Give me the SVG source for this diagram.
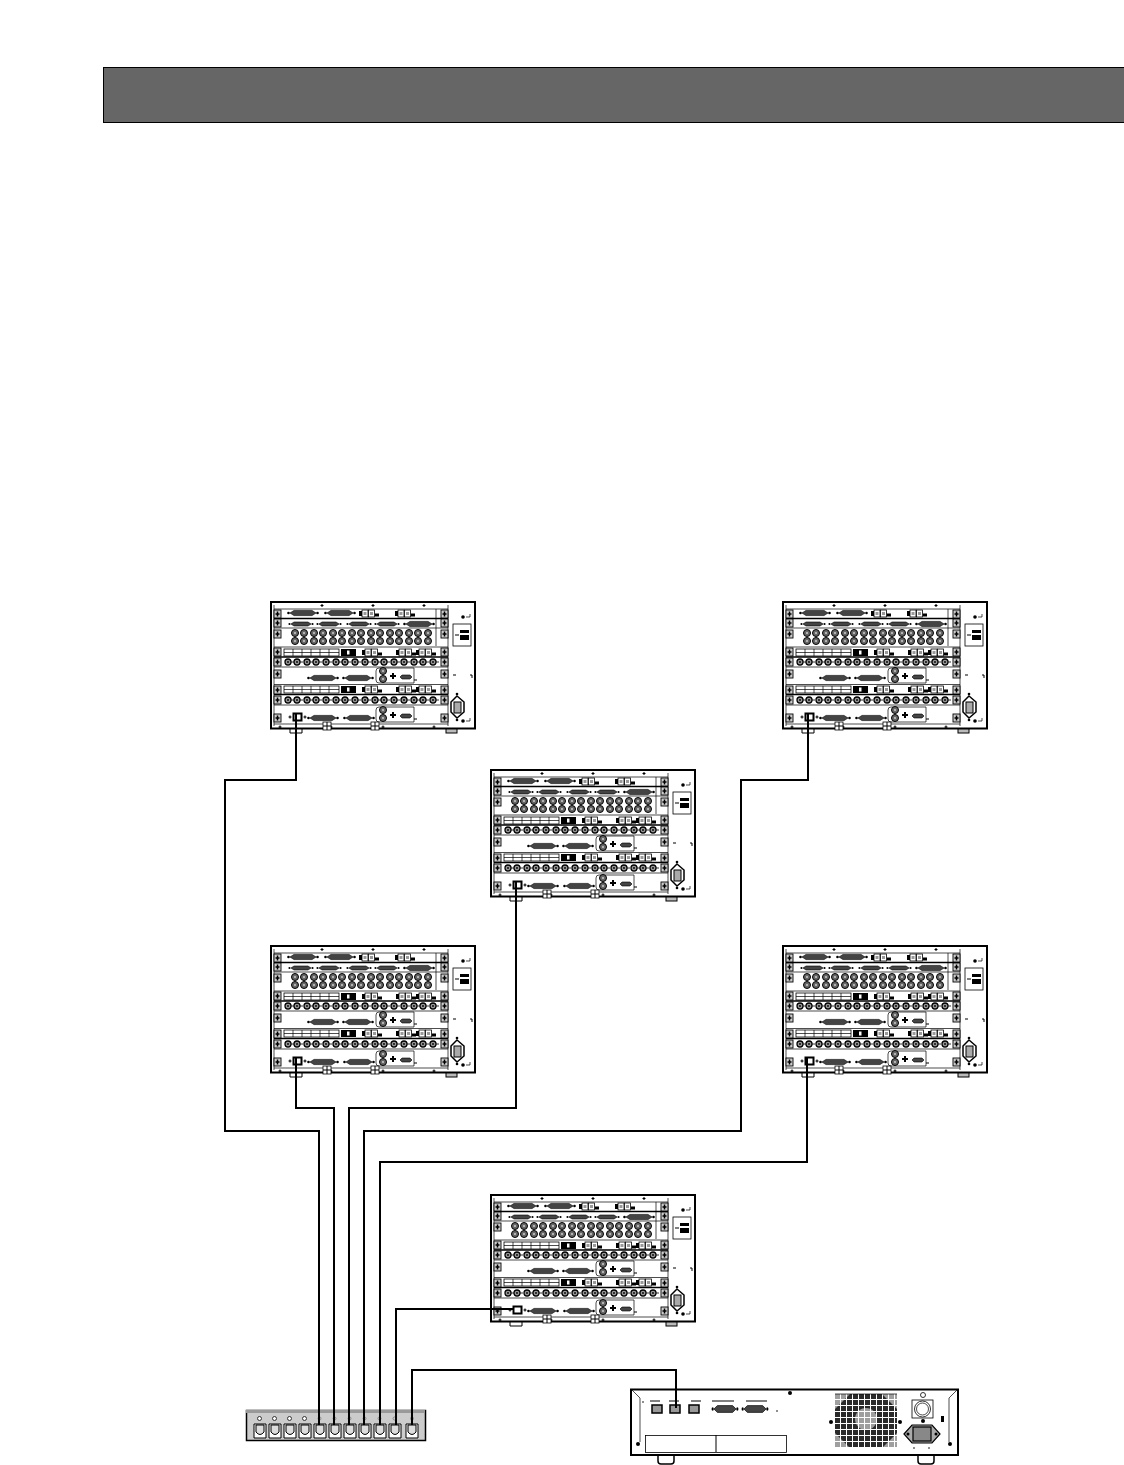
<svg xmlns="http://www.w3.org/2000/svg" xmlns:xlink="http://www.w3.org/1999/xlink" width="1124" height="1465" viewBox="0 0 1124 1465">
<style>
.ln{fill:none;stroke:#000;stroke-width:1}
.th{fill:none;stroke:#000;stroke-width:.7}
.wh{fill:#fff;stroke:#000;stroke-width:.8}
.dk{fill:#333}
.bk{fill:#000}
.cable{fill:none;stroke:#000;stroke-width:2}
</style>
<defs>
<pattern id="fan" width="6" height="6" patternUnits="userSpaceOnUse" x="835" y="1394">
<rect width="6" height="6" fill="#fff"/><rect width="5" height="5" fill="#2a2a2a"/>
</pattern>
<g id="sub"><path d="M-13 0L-9-2.600H9L13 0L9 2.600H-9Z" fill="#444" stroke="#000" stroke-width=".6"/><circle cx="-14.500" r="1.300" class="bk"/><circle cx="14.500" r="1.300" class="bk"/></g>
<g id="subs"><path d="M-10 0L-7-2H7L10 0L7 2H-7Z" fill="#444" stroke="#000" stroke-width=".6"/><circle cx="-11.500" r="1.100" class="bk"/><circle cx="11.500" r="1.100" class="bk"/></g>
<g id="bnc"><circle r="3.500" fill="#666" stroke="#000" stroke-width="1"/><circle r="1" fill="#ccc"/></g>
<g id="hb"><circle r="3" fill="#999" stroke="#000" stroke-width="1.300"/><circle r=".9" class="bk"/><path d="M3 0H6" stroke="#000" stroke-width=".8"/></g>
<g id="rj"><rect x="-3" y="-3.500" width="6" height="7" class="wh"/><rect x="-1.500" y="-1.500" width="3" height="3" fill="#999"/></g>
<g id="rjs"><rect x="-9" y="-2.500" width="3" height="5" class="bk"/><use href="#rj" x="-3"/><use href="#rj" x="3.500"/><rect x="7" y="0" width="4" height="3" class="bk"/></g>
<g id="ear"><rect x="0" y="0" width="7" height="8" fill="#ccc" stroke="#000" stroke-width=".9"/><path d="M3.500 1.500V6.500M1.500 4H5.500" stroke="#000" stroke-width="1.500"/></g>
<g id="s"><path d="M-1.500 0H1.500M0-1.500V1.500" stroke="#000" stroke-width="1.100"/></g>
<g id="slotbox">
<rect x="13" y="1" width="55" height="7" class="wh"/><path class="th" d="M13 4.500H68M22 1V8M31 1V8M40 1V8M49 1V8M58 1V8"/>
<rect x="70" y="1" width="15" height="7" class="bk"/><rect x="76" y="2.500" width="2.500" height="4" fill="#fff"/>
<use href="#rjs" x="100" y="4.500"/><use href="#rjs" x="134" y="4.500"/><use href="#rjs" x="154" y="4.500"/>
</g>
<g id="bncrow">
<use href="#hb" x="17"/><use href="#hb" x="26"/><use href="#hb" x="36"/><use href="#hb" x="45"/><use href="#hb" x="55"/><use href="#hb" x="65"/><use href="#hb" x="74"/><use href="#hb" x="84"/><use href="#hb" x="94"/><use href="#hb" x="104"/><use href="#hb" x="113"/><use href="#hb" x="123"/><use href="#hb" x="133"/><use href="#hb" x="143"/><use href="#hb" x="152"/><use href="#hb" x="162"/>
</g>
<g id="bncs">
<use href="#bnc" x="24"/><use href="#bnc" x="33"/><use href="#bnc" x="43"/><use href="#bnc" x="52"/><use href="#bnc" x="62"/><use href="#bnc" x="71"/><use href="#bnc" x="81"/><use href="#bnc" x="90"/><use href="#bnc" x="100"/><use href="#bnc" x="109"/><use href="#bnc" x="119"/><use href="#bnc" x="128"/><use href="#bnc" x="138"/><use href="#bnc" x="147"/><use href="#bnc" x="157"/>
</g>
<g id="ctl">
<path class="th" d="M108 0H143V15H108Q105 15 105 12V3Q105 0 108 0Z"/>
<use href="#bnc" x="112" y="3"/><use href="#bnc" x="112" y="11"/><path d="M119 8H125M122 5V11" stroke="#000" stroke-width="2"/>
<path d="M129 9L131 7H139L141 9L139 11H131Z" fill="#444" stroke="#000" stroke-width=".6"/><path d="M143 12H146" stroke="#000"/>
</g>
<g id="rack">
<rect x="0" y="0" width="204" height="126.500" fill="#fff" stroke="#000" stroke-width="2"/>
<path d="M19 127V131H31V127" class="ln" stroke-width="1.400"/><rect x="175" y="127" width="11" height="4" fill="#bbb" stroke="#000"/>
<path class="th" d="M3 3V124M177 3V124M3 7H177M3 26H177M3 45H177M3 65H177M3 82.500H177M3 103H177M3 122H177M165 7V44"/>
<path d="M3 16.500H177M3 55H177M3 92.500H177" stroke="#000" stroke-width="1.400"/>
<use href="#ear" x="3" y="8"/><use href="#ear" x="3" y="17"/><use href="#ear" x="3" y="28"/><use href="#ear" x="3" y="46"/><use href="#ear" x="3" y="56"/><use href="#ear" x="3" y="68"/><use href="#ear" x="3" y="84"/><use href="#ear" x="3" y="94"/><use href="#ear" x="3" y="112"/>
<use href="#ear" x="170" y="8"/><use href="#ear" x="170" y="17"/><use href="#ear" x="170" y="28"/><use href="#ear" x="170" y="46"/><use href="#ear" x="170" y="56"/><use href="#ear" x="170" y="68"/><use href="#ear" x="170" y="84"/><use href="#ear" x="170" y="94"/><use href="#ear" x="170" y="112"/>
<use href="#s" x="51" y="3.500"/><use href="#s" x="102" y="3.500"/><use href="#s" x="153" y="3.500"/><use href="#s" x="9" y="125"/><use href="#s" x="60" y="125"/><use href="#s" x="112" y="125"/><use href="#s" x="163" y="125"/>
<use href="#sub" x="32" y="11"/><use href="#sub" x="69" y="11"/>
<use href="#rjs" x="97" y="11.500"/><use href="#rjs" x="133" y="11.500"/>
<use href="#subs" x="30" y="22"/><use href="#subs" x="58" y="22"/><use href="#subs" x="88" y="22"/><use href="#subs" x="116" y="22"/><use href="#sub" x="148" y="22"/>
<use href="#bncs" y="31"/><use href="#bncs" y="39"/>
<use href="#slotbox" y="46"/><use href="#bncrow" y="60"/>
<use href="#sub" x="52" y="76"/><use href="#sub" x="87" y="76"/><use href="#ctl" y="66"/>
<use href="#slotbox" y="83"/><use href="#bncrow" y="98"/>
<rect x="22.500" y="111.500" width="8" height="7" fill="#fff" stroke="#000" stroke-width="2"/>
<use href="#s" x="19" y="115"/><use href="#s" x="34" y="115"/>
<use href="#sub" x="52" y="116"/><use href="#sub" x="88" y="116"/><use href="#ctl" y="105"/>
<g class="wh"><rect x="52" y="120" width="8" height="8"/><rect x="100" y="120" width="8" height="8"/></g>
<path d="M56 120V128M52 124H60M104 120V128M100 124H108" stroke="#000" stroke-width="1"/>
<rect x="182" y="22" width="18" height="22" class="wh"/>
<rect x="189" y="28" width="9" height="3" class="bk"/><rect x="189" y="33" width="9" height="5" class="bk"/><path d="M184 33H188" stroke="#000"/>
<circle cx="192" cy="15" r="1.800" class="bk"/><path d="M195 15H199V12" class="th"/>
<path d="M186 94L193 100V110L186 116L180 110V100Z" fill="#fff" stroke="#000" stroke-width="1.500"/><rect x="183" y="100" width="7" height="11" fill="#aaa" stroke="#000"/>
<circle cx="186" cy="92" r="1.300" class="bk"/><circle cx="186" cy="118" r="1.300" class="bk"/>
<circle cx="192" cy="119" r="1.800" class="bk"/><path d="M195 119H199V116" class="th"/>
<path d="M182 73H185M199 73H201V76" class="ln"/>
</g>
</defs>
<rect width="1124" height="1465" fill="#fff"/>
<rect id="header-bar" x="103.500" y="67.500" width="1021" height="55" fill="#666" stroke="#000" stroke-width="1"/>
<g id="rack-1"><use href="#rack" x="271" y="602"/></g>
<g id="rack-2"><use href="#rack" x="783" y="602"/></g>
<g id="rack-3"><use href="#rack" x="491" y="770"/></g>
<g id="rack-4"><use href="#rack" x="271" y="946"/></g>
<g id="rack-5"><use href="#rack" x="783" y="946"/></g>
<g id="rack-6"><use href="#rack" x="491" y="1195"/></g>
<g id="switch">
<rect x="246.500" y="1410.500" width="179" height="30" fill="#ccc" stroke="#000" stroke-width="1.500"/>
<path d="M246 1410H425V1413H246Z" fill="#999"/>
<g id="switch-ports" fill="#fff" stroke="#000">
<path d="M254 1424H266V1438H254Z M269 1424H281V1438H269Z M284 1424H296V1438H284Z M299 1424H311V1438H299Z M314 1424H326V1438H314Z M329 1424H341V1438H329Z M344 1424H356V1438H344Z M359 1424H371V1438H359Z M374 1424H386V1438H374Z M389 1424H401V1438H389Z M406 1424H418V1438H406Z"/>
<path fill="#ddd" d="M256 1425V1432Q260 1437 264 1432V1425Z M271 1425V1432Q275 1437 279 1432V1425Z M286 1425V1432Q290 1437 294 1432V1425Z M301 1425V1432Q305 1437 309 1432V1425Z M316 1425V1432Q320 1437 324 1432V1425Z M331 1425V1432Q335 1437 339 1432V1425Z M346 1425V1432Q350 1437 354 1432V1425Z M361 1425V1432Q365 1437 369 1432V1425Z M376 1425V1432Q380 1437 384 1432V1425Z M391 1425V1432Q395 1437 399 1432V1425Z M408 1425V1432Q412 1437 416 1432V1425Z"/>
<g fill="#fff" stroke="#333"><circle cx="259.500" cy="1418.500" r="2"/><circle cx="274.500" cy="1418.500" r="2"/><circle cx="289.500" cy="1418.500" r="2"/><circle cx="304.500" cy="1418.500" r="2"/></g>
<g fill="#ccc" stroke="#888"><circle cx="319.500" cy="1418.500" r="1.500"/><circle cx="334.500" cy="1418.500" r="1.500"/><circle cx="349.500" cy="1418.500" r="1.500"/><circle cx="364.500" cy="1418.500" r="1.500"/><circle cx="379.500" cy="1418.500" r="1.500"/><circle cx="394.500" cy="1418.500" r="1.500"/><circle cx="412" cy="1418.500" r="1.500"/></g>
</g>
</g>
<g id="controller">
<path d="M658 1455V1461Q658 1464 661 1464H671Q674 1464 674 1461V1455M918 1455V1461Q918 1464 921 1464H931Q934 1464 934 1461V1455" fill="#fff" stroke="#000" stroke-width="1.500"/>
<rect x="631" y="1389.500" width="327" height="65.500" fill="#fff" stroke="#000" stroke-width="2"/>
<path class="th" d="M631 1389L640 1398V1442M958 1389L949 1398V1442"/>
<rect x="645.500" y="1435.500" width="141" height="17" class="wh"/><path d="M716 1435V1452" stroke="#000"/>
<g fill="#999" stroke="#000" stroke-width="1.500"><rect x="652" y="1405" width="10" height="8"/><rect x="670" y="1405" width="10" height="8"/><rect x="689" y="1405" width="10" height="8"/></g>
<path class="ln" d="M650 1401H660M669 1401H679M691 1401H701M712 1401H734M746 1401H767"/>
<use href="#sub" transform="translate(725 1409) scale(.85 1.300)"/><use href="#sub" transform="translate(755 1409) scale(.85 1.300)"/>
<rect x="835" y="1394" width="62" height="54" fill="url(#fan)"/>
<circle cx="866" cy="1419" r="11" fill="#fff" opacity=".55"/>
<path fill="#fff" opacity=".55" d="M835 1394H850L835 1409ZM897 1394H882L897 1409ZM835 1448H850L835 1433ZM897 1448H882L897 1433Z"/>
<path class="th" d="M835 1394H897"/>
<rect x="912" y="1400" width="21" height="18" class="wh"/><circle cx="922.500" cy="1409" r="8" class="wh"/><circle cx="922.500" cy="1409" r="6" class="th"/>
<circle cx="923" cy="1395" r="2.500" class="wh"/>
<path d="M904 1434L912 1425H932L940 1434L932 1443H912Z" fill="#aaa" stroke="#000" stroke-width="1.200"/>
<rect x="913" y="1427" width="18" height="14" fill="#888" stroke="#000" stroke-width="1.200"/>
<g class="bk"><circle cx="790" cy="1393" r="2"/><circle cx="638" cy="1444" r="2"/><circle cx="950" cy="1444" r="2"/><circle cx="831" cy="1422" r="2"/><circle cx="900" cy="1422" r="2"/><circle cx="923" cy="1421" r="2"/><circle cx="908" cy="1434" r="1.500"/><circle cx="936" cy="1434" r="1.500"/><rect x="941" y="1416" width="3" height="6"/><circle cx="643" cy="1402" r=".8"/><circle cx="777" cy="1411" r=".8"/><circle cx="914" cy="1448" r=".8"/><circle cx="929" cy="1448" r=".8"/></g>
</g>
<g id="connectors" class="cable">
<path d="M296 714V780H225V1131H319V1425"/>
<path d="M296 1058V1108H334V1425"/>
<path d="M516 882V1108H349V1425"/>
<path d="M808 714V780H741V1131H364V1425"/>
<path d="M807 1058V1162H380V1425"/>
<path d="M514 1309H396V1425"/>
<path d="M676 1408V1370H412V1425"/>
</g>
</svg>
